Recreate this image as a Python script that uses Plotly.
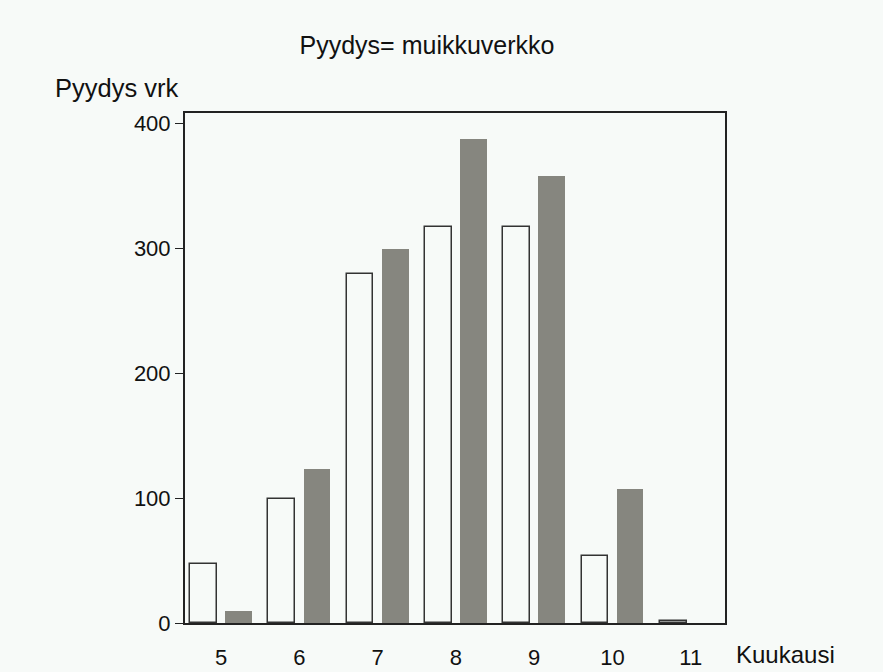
import plotly.graph_objects as go

months = [5, 6, 7, 8, 9, 10, 11]
tick_labels = ["5", "6", "7", "8", "9", "10", "11"]
series_white = [47, 99, 279, 317, 317, 54, 2]
series_gray = [10, 123, 299, 387, 358, 107, 0]

BG = "#f7faf8"
FONT = "Liberation Sans, Arial, sans-serif"

fig = go.Figure()
fig.add_trace(go.Bar(
    x=months, y=series_white, width=0.341, offset=-0.395,
    marker=dict(color=BG, line=dict(color="#333333", width=1.5)),
    showlegend=False,
))
fig.add_trace(go.Bar(
    x=months, y=series_gray, width=0.341, offset=0.054,
    marker=dict(color="#86867f", line=dict(color="#86867f", width=0)),
    showlegend=False,
))

fig.update_layout(
    width=883, height=672,
    paper_bgcolor=BG, plot_bgcolor=BG,
    margin=dict(l=185, r=158, t=113, b=49),
    font=dict(family=FONT, size=22, color="#111111"),
    title=dict(text="Pyydys= muikkuverkko", x=0.4836, y=0.932,
               xref="container", yref="container",
               xanchor="center", yanchor="middle",
               font=dict(family=FONT, size=25, color="#111111")),
    bargap=0,
    xaxis=dict(
        range=[4.540, 11.437], tickmode="array", tickvals=months, ticktext=tick_labels,
        showline=True, linecolor="#222222", linewidth=2, mirror=True,
        showgrid=False, zeroline=False, ticks="", ticklabelstandoff=14,
        tickfont=dict(size=22), automargin=False,
    ),
    yaxis=dict(
        range=[0, 408], tickvals=[0, 100, 200, 300, 400],
        showline=True, linecolor="#222222", linewidth=2, mirror=True,
        showgrid=False, zeroline=False, ticks="outside", ticklen=8,
        tickcolor="#222222", tickwidth=1, ticklabelstandoff=0,
        tickfont=dict(size=22), automargin=False,
    ),
    annotations=[
        dict(text="Kuukausi", xref="paper", yref="paper", x=1.0172, y=-0.0627,
             xanchor="left", yanchor="middle", showarrow=False,
             font=dict(family=FONT, size=24, color="#111111")),
        dict(text="Pyydys vrk", xref="paper", yref="paper", x=-0.2440, y=1.049,
             xanchor="left", yanchor="middle", showarrow=False,
             font=dict(family=FONT, size=25.5, color="#111111")),
    ],
)

fig.write_html(
    "out.html",
    config={"displayModeBar": False},
    post_script="document.body.style.margin='0';document.body.style.background='%s';" % BG,
)
